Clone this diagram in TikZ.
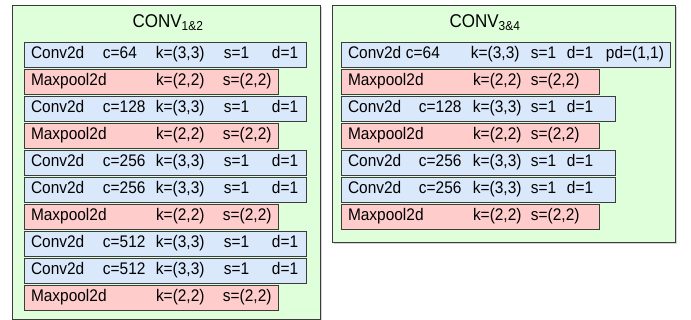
\documentclass[tikz,border=0pt]{standalone}
\usepackage{fontspec}
\setmainfont{Liberation Sans}[FakeStretch=0.92]
\usetikzlibrary{positioning, shadows}
\definecolor{groupgreen}{RGB}{222,255,218}
\definecolor{convblue}{RGB}{218,232,252}
\definecolor{poolred}{RGB}{255,204,204}
\definecolor{edgegray}{RGB}{60,60,60}
\newcommand{\cell}[2]{\makebox[#1pt][l]{#2}}
\tikzstyle{group} = [rectangle, draw=edgegray, fill=groupgreen, line width=0.8pt,
    anchor=north west, drop shadow={shadow xshift=2pt, shadow yshift=-2pt, opacity=0.35}]
\tikzstyle{layer} = [rectangle, draw=edgegray, line width=0.8pt, outer sep=0pt,
    minimum height=25pt, inner xsep=7pt, inner ysep=0pt, align=left]
\tikzstyle{conv} = [layer, fill=convblue, text width=#1]
\tikzstyle{pool} = [layer, fill=poolred, text width=#1]
\tikzstyle{title} = [font=\fontsize{18.5pt}{22pt}\selectfont]

\begin{document}
\begin{tikzpicture}[x=1pt, y=-1pt, font=\fontsize{16.8pt}{19pt}\selectfont,
    node distance=2pt]
\useasboundingbox (0,0) rectangle (691,320);

% Groups
\node (g12) [group, minimum width=308pt, minimum height=314pt] at (12,5) {};
\node (g34) [group, minimum width=343pt, minimum height=237pt] at (332,5) {};
\node (t12) [title] at (168,23) {CONV\textsubscript{1\&2}};
\node (t34) [title] at (485,23) {CONV\textsubscript{3\&4}};

% Left layers
\node (l1) [conv=268pt, anchor=north west] at (24,42) {\cell{72}{Conv2d}\cell{53}{c=64}\cell{68}{k=(3,3)}\cell{48}{s=1}d=1};
\node (l2) [pool=240pt, below right=2pt and 0pt of l1.south west] {\cell{125}{Maxpool2d}\cell{67}{k=(2,2)}s=(2,2)};
\node (l3) [conv=268pt, below right=2pt and 0pt of l2.south west] {\cell{72}{Conv2d}\cell{53}{c=128}\cell{68}{k=(3,3)}\cell{48}{s=1}d=1};
\node (l4) [pool=240pt, below right=2pt and 0pt of l3.south west] {\cell{125}{Maxpool2d}\cell{67}{k=(2,2)}s=(2,2)};
\node (l5) [conv=268pt, below right=2pt and 0pt of l4.south west] {\cell{72}{Conv2d}\cell{53}{c=256}\cell{68}{k=(3,3)}\cell{48}{s=1}d=1};
\node (l6) [conv=268pt, below right=2pt and 0pt of l5.south west] {\cell{72}{Conv2d}\cell{53}{c=256}\cell{68}{k=(3,3)}\cell{48}{s=1}d=1};
\node (l7) [pool=240pt, below right=2pt and 0pt of l6.south west] {\cell{125}{Maxpool2d}\cell{67}{k=(2,2)}s=(2,2)};
\node (l8) [conv=268pt, below right=2pt and 0pt of l7.south west] {\cell{72}{Conv2d}\cell{53}{c=512}\cell{68}{k=(3,3)}\cell{48}{s=1}d=1};
\node (l9) [conv=268pt, below right=2pt and 0pt of l8.south west] {\cell{72}{Conv2d}\cell{53}{c=512}\cell{68}{k=(3,3)}\cell{48}{s=1}d=1};
\node (l10) [pool=240pt, below right=2pt and 0pt of l9.south west] {\cell{125}{Maxpool2d}\cell{67}{k=(2,2)}s=(2,2)};

% Right layers
\node (r1) [conv=315pt, anchor=north west] at (341,42) {\cell{58}{Conv2d}\cell{65}{c=64}\cell{60}{k=(3,3)}\cell{36}{s=1}\cell{39}{d=1}pd=(1,1)};
\node (r2) [pool=244pt, below right=2pt and 0pt of r1.south west] {\cell{125}{Maxpool2d}\cell{58}{k=(2,2)}s=(2,2)};
\node (r3) [conv=260pt, below right=2pt and 0pt of r2.south west] {\cell{71}{Conv2d}\cell{54}{c=128}\cell{58}{k=(3,3)}\cell{36}{s=1}d=1};
\node (r4) [pool=244pt, below right=2pt and 0pt of r3.south west] {\cell{125}{Maxpool2d}\cell{58}{k=(2,2)}s=(2,2)};
\node (r5) [conv=260pt, below right=2pt and 0pt of r4.south west] {\cell{71}{Conv2d}\cell{54}{c=256}\cell{58}{k=(3,3)}\cell{36}{s=1}d=1};
\node (r6) [conv=260pt, below right=2pt and 0pt of r5.south west] {\cell{71}{Conv2d}\cell{54}{c=256}\cell{58}{k=(3,3)}\cell{36}{s=1}d=1};
\node (r7) [pool=244pt, below right=2pt and 0pt of r6.south west] {\cell{125}{Maxpool2d}\cell{58}{k=(2,2)}s=(2,2)};

\end{tikzpicture}
\end{document}
